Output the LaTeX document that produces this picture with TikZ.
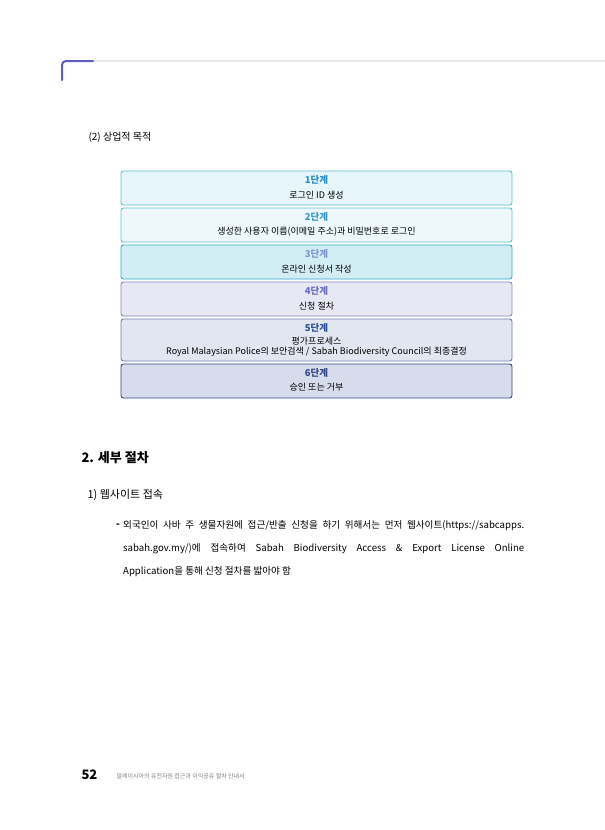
\documentclass[tikz,border=0pt]{standalone}
\usepackage{fontspec}
\setmainfont{Noto Sans CJK KR}
\begin{document}
\begin{tikzpicture}[x=1pt,y=-1pt,
  stepbox/.style={draw=#1,line width=0.9pt,rounded corners=2.5pt},
  t/.style={font=\fontsize{9}{11}\selectfont,align=center,inner sep=0pt},
  th/.style={font=\fontsize{9.5}{11}\selectfont\bfseries,inner sep=0pt,text=#1},
  pl/.style={anchor=west,inner sep=0pt,font=\fontsize{9.6}{12}\selectfont}]
\useasboundingbox (0,0) rectangle (605,830);
\fill[white] (0,0) rectangle (605,830);
% header line
\draw[line width=2pt,color=blue!8!gray!15] (93,61) -- (605,61);
\draw[line width=2pt,color=blue!40!gray!90,line cap=round,rounded corners=4pt] (62,80) -- (62,61) -- (93,61);
\node[anchor=west,font=\fontsize{10}{12}\selectfont] (sub) at (85,137) {(2) 상업적 목적};
% boxes
\definecolor{b1}{HTML}{E6F6FA}\definecolor{c1}{HTML}{5EC0D4}
\definecolor{b2}{HTML}{EEF8FC}\definecolor{c2}{HTML}{5EC0D4}
\definecolor{b3}{HTML}{D3EDF5}\definecolor{c3}{HTML}{34AAC8}
\definecolor{b4}{HTML}{E8E8F4}\definecolor{c4}{HTML}{8686BC}
\definecolor{b5}{HTML}{E2E6F1}\definecolor{c5}{HTML}{7080B6}
\definecolor{b6}{HTML}{D6DCEB}\definecolor{c6}{HTML}{34468A}
\definecolor{h1}{HTML}{2A8FC8}\definecolor{h2}{HTML}{3A9AD0}
\definecolor{h3}{HTML}{8394D2}\definecolor{h4}{HTML}{6A6FC0}
\definecolor{h5}{HTML}{2F4FA0}\definecolor{h6}{HTML}{34488C}
\draw[stepbox=c1,fill=b1] (121,171) rectangle (512,205);
\draw[stepbox=c2,fill=b2] (121,208) rectangle (512,242);
\draw[stepbox=c3,fill=b3] (121,245) rectangle (512,279);
\draw[stepbox=c4,fill=b4] (121,282) rectangle (512,316);
\draw[stepbox=c5,fill=b5] (121,319) rectangle (512,361);
\draw[stepbox=c6,fill=b6] (121,364) rectangle (512,398);
\node[th=h1] (s1) at (316.5,180) {1단계};
\node[t] (d1) at (316.5,195) {로그인 ID 생성};
\node[th=h2] (s2) at (316.5,217) {2단계};
\node[t] (d2) at (316.5,232) {생성한 사용자 이름(이메일 주소)과 비밀번호로 로그인};
\node[th=h3] (s3) at (316.5,254) {3단계};
\node[t] (d3) at (316.5,269) {온라인 신청서 작성};
\node[th=h4] (s4) at (316.5,291) {4단계};
\node[t] (d4) at (316.5,306) {신청 절차};
\node[th=h5] (s5) at (316.5,328) {5단계};
\node[t] (d5) at (316.5,341) {평가프로세스};
\node[t] (e5) at (316.5,352) {Royal Malaysian Police의 보안검색 / Sabah Biodiversity Council의 최종결정};
\node[th=h6] (s6) at (316.5,373) {6단계};
\node[t] (d6) at (316.5,387) {승인 또는 거부};
% section
\node[anchor=west,font=\fontsize{13}{15}\selectfont\bfseries] (sec) at (78,458) {2. 세부 절차};
\node[anchor=west,font=\fontsize{11}{13}\selectfont] (ss) at (84,495) {1) 웹사이트 접속};
\node[anchor=west,font=\fontsize{10}{12}\selectfont\bfseries,inner sep=0pt] (dash) at (116,526) {-};
\node[pl] (p1) at (123,526) {\makebox[401pt][s]{외국인이 사바 주 생물자원에 접근/반출 신청을 하기 위해서는 먼저 웹사이트(https://sabcapps.}};
\node[pl] (p2) at (123,549) {\makebox[401pt][s]{sabah.gov.my/)에 접속하여 Sabah Biodiversity Access \& Export License Online}};
\node[pl] (p3) at (123,572) {Application을 통해 신청 절차를 밟아야 함};
% footer
\node[anchor=west,font=\fontsize{13}{15}\selectfont\bfseries] (pg) at (78,775) {52};
\node[anchor=west,font=\fontsize{6}{7}\selectfont,text=gray] (ft) at (113,776) {말레이시아의 유전자원 접근과 이익공유 절차 안내서};
\end{tikzpicture}
\end{document}
